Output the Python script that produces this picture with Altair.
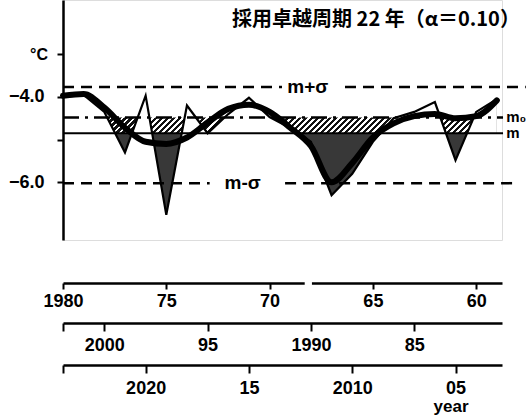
import altair as alt
import pandas as pd

# ---------------- data ----------------
years = list(range(1980, 1958, -1))  # 1980 ... 1959
observed = [-4.00, -3.95, -4.35, -5.30, -3.97, -6.76, -4.20, -4.85, -4.40, -4.02, -4.47,
            -4.73, -5.05, -6.30, -5.80, -5.05, -4.50, -4.35, -4.12, -5.48, -4.35, -4.05]
smoothed = [-3.97, -3.93, -4.25, -4.72, -5.05, -5.10, -4.95, -4.60, -4.28, -4.18, -4.35,
            -4.72, -5.15, -6.00, -5.55, -4.95, -4.62, -4.45, -4.40, -4.50, -4.45, -4.08]

m_plus_sigma = -3.77
m_zero = -4.48
m_mean = -4.85
m_minus_sigma = -6.02

y_tick_values = [-3, -4, -5, -6]
y_label_values = [-4, -6]

axis1_years = [1980, 1975, 1970, 1965, 1960]
axis1_labels = ["1980", "75", "70", "65", "60"]
axis2_years = [2002, 2000, 1995, 1990, 1985]
axis2_labels = ["", "2000", "95", "1990", "85"]
axis2_shift = 22
axis3_years = [2024, 2020, 2015, 2010, 2005]
axis3_labels = ["", "2020", "15", "2010", "05"]
axis3_shift = 44

title_text = "採用卓越周期 22 年（α＝0.10）"

# ---------------- layout ----------------
W, H = 439, 240
X_DOMAIN = [1980, 1958.75]
Y_DOMAIN = [-7.35, -1.73]
FONT = "Liberation Sans"

df = pd.DataFrame({"year": years, "obs": observed, "smooth": smoothed})

xscale = alt.Scale(domain=X_DOMAIN, nice=False, zero=False)
yscale = alt.Scale(domain=Y_DOMAIN, nice=False, zero=False)


def label_expr(keys, labels):
    expr = "''"
    for k, l in reversed(list(zip(keys, labels))):
        expr = f"datum.value == {k} ? '{l}' : ({expr})"
    return expr


def x_axis(keys, labels, offset, tick, pad):
    return alt.Axis(orient="bottom", offset=offset, values=keys, labelExpr=label_expr(keys, labels),
                    grid=False, title=None, domainColor="black", domainWidth=2.5, tickColor="black",
                    tickWidth=2, tickSize=tick, labelFont=FONT, labelFontSize=18, labelFontWeight="bold",
                    labelColor="black", labelPadding=pad, labelFlush=False, labelOverlap=False)


axis1 = x_axis(axis1_years, axis1_labels, 43, 6, 3)
axis2 = x_axis([y - axis2_shift for y in axis2_years], axis2_labels, 83, 8, 5)
axis3 = x_axis([y - axis3_shift for y in axis3_years], axis3_labels, 125, 8, 6)

y_label_cond = " || ".join(f"datum.value == {v}" for v in y_label_values)
yaxis = alt.Axis(values=y_tick_values, labelExpr=f"{y_label_cond} ? format(datum.value, '.1f') : ''",
                 grid=False, title=None, domainColor="black", domainWidth=2.5, tickColor="black",
                 tickWidth=2, tickSize=6, labelFont=FONT, labelFontSize=18, labelFontWeight="bold",
                 labelColor="black", labelPadding=13, zindex=1)


def X(field=None, datum=None, axis=None):
    if field is not None:
        return alt.X(field, type="quantitative", scale=xscale, axis=axis)
    return alt.X(datum=datum, type="quantitative", scale=xscale, axis=axis)


def Y(field=None, datum=None):
    if field is not None:
        return alt.Y(field, type="quantitative", scale=yscale, axis=yaxis, stack=None)
    return alt.Y(datum=datum, type="quantitative", scale=yscale, axis=yaxis, stack=None)


# hatch gradient ("////" stripes) sized from the hatched area's bounding box
px_per_year = W / (X_DOMAIN[0] - X_DOMAIN[1])
px_per_deg = H / (Y_DOMAIN[1] - Y_DOMAIN[0])
bw = (years[0] - years[-1]) * px_per_year
ys = [(Y_DOMAIN[1] - v) * px_per_deg for v in observed + [m_zero]]
bh = max(ys) - min(ys)
k = 1.3
period = 6.0
ink = 0.55
n = int(k * bw * (1 + (bh / bw) ** 2) / period)
stops = []
for i in range(n):
    a, b, c = i / n, (i + ink) / n, (i + 1) / n
    stops += [alt.GradientStop(color="#111111", offset=a), alt.GradientStop(color="#111111", offset=b),
              alt.GradientStop(color="white", offset=b), alt.GradientStop(color="white", offset=c)]
hatch = alt.LinearGradient(gradient="linear", stops=stops, x1=0, y1=0, x2=k, y2=k * bh / bw)

base = alt.Chart(df)

# 1 hatched area between observed and m0
hatch_area = base.mark_area(fill=hatch, orient="vertical", strokeWidth=0).encode(
    x=X("year", axis=axis1), y=Y("obs"), y2=alt.Y2(datum=m_zero))
# 2 dark (dotted) area between observed and m
dark = base.mark_area(fill="#383838", strokeWidth=0, orient="vertical").encode(
    x=X("year"), y=Y("obs"), y2=alt.Y2(datum=m_mean))
# 3 white mask below the observed line: removes the parts where the series lies above the levels
mask_bot = base.mark_area(fill="white", strokeWidth=0, orient="vertical").encode(
    x=X("year"), y=Y("obs"), y2=alt.Y2(datum=Y_DOMAIN[0]))


# reference lines (segments broken where the labels sit)
def hline(level, x0, x1, dash, width):
    seg = pd.DataFrame({"level": [level], "x0": [x0], "x1": [x1]})
    props = dict(color="black", strokeWidth=width)
    if dash:
        props["strokeDash"] = dash
    return alt.Chart(seg).mark_rule(**props).encode(
        x=X("x0"), x2="x1", y=Y("level"))


dash = [11, 7]
lines = [
    hline(m_plus_sigma, 1980, 1969.4, dash, 2.5),
    hline(m_plus_sigma, 1966.35, 1957.6, dash, 2.5),
    hline(m_minus_sigma, 1980, 1972.9, dash, 2.5),
    hline(m_minus_sigma, 1969.25, 1958.0, dash, 2.5),
    hline(m_zero, 1980, 1958.7, [16, 6, 3, 6], 2.5),
    hline(m_mean, 1980, 1958.7, None, 2),
]

thin = base.mark_line(color="black", strokeWidth=2.2).encode(x=X("year"), y=Y("obs"))
thick = base.mark_line(color="black", strokeWidth=6, interpolate="monotone",
                       strokeCap="round", strokeJoin="round").encode(x=X("year"), y=Y("smooth"))

# extra axes (shared scale, shifted labels)
ax2_layer = base.mark_point(opacity=0).encode(x=X("year", axis=axis2), y=Y("obs"))
ax3_layer = base.mark_point(opacity=0).encode(x=X("year", axis=axis3), y=Y("obs"))

# gap in the first time axis
gap = alt.Chart(pd.DataFrame({"a": [1968.3], "b": [1967.95]})).mark_rule(
    color="white", strokeWidth=5).encode(x=X("a"), x2="b", y=alt.value(H + 43))


def label(text, xv, yv, align="center", size=19):
    d = pd.DataFrame({"t": [text], "x": [xv], "y": [yv]})
    return alt.Chart(d).mark_text(align=align, baseline="middle", font=FONT, fontSize=size,
                                  fontWeight="bold", color="black").encode(
        x=X("x"), y=Y("y"), text="t:N")


labels = [
    label("m+σ", 1968.15, m_plus_sigma),
    label("m-σ", 1971.3, m_minus_sigma),
    label("m₀", 1958.55, m_zero, align="left", size=15),
    label("m", 1958.55, m_mean, align="left", size=15),
]


def pix_text(text, px, py, size, font=FONT, align="center"):
    d = pd.DataFrame({"t": [text]})
    return alt.Chart(d).mark_text(align=align, baseline="middle", font=font, fontSize=size,
                                  fontWeight="bold", color="black").encode(
        x=alt.value(px), y=alt.value(py), text="t:N")


title = pix_text(title_text, 313, 20, 20, font="Noto Sans CJK JP")
unit = pix_text("°C", -24, 55, 16)
year_lbl = pix_text("year", 388, 407, 17)

chart = alt.layer(
    hatch_area, dark, mask_bot, *lines, thin, thick, ax2_layer, ax3_layer, gap,
    *labels, title, unit, year_lbl
).resolve_axis(x="independent").properties(
    width=W, height=H,
    autosize=alt.AutoSizeParams(type="none"),
    padding={"left": 63, "top": 0, "right": 25, "bottom": 180},
).configure_view(strokeWidth=0, stroke="transparent").configure(background="white")

chart.save("out.html", embed_options={"renderer": "svg", "actions": False})
